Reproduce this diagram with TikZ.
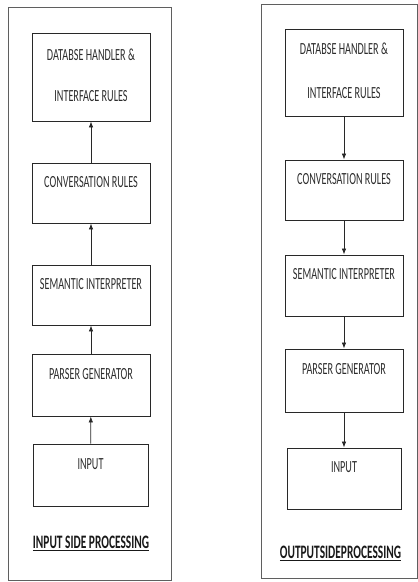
\documentclass[tikz,border=0pt]{standalone}
\usepackage{fontspec}
\setmainfont{Carlito}
\usepackage{graphicx}
\usetikzlibrary{arrows.meta,positioning}
\definecolor{TextGray}{RGB}{45,45,45}
\definecolor{LineGray}{RGB}{40,40,40}
\definecolor{FrameGray}{RGB}{95,95,95}
\newcommand{\narrow}[1]{\scalebox{0.6}[1]{#1}}
\newcommand{\sidetitle}[1]{\scalebox{0.6}[1]{\bfseries\underline{#1}}}

\begin{document}
\begin{tikzpicture}[
  x=1pt, y=-1pt,
  blk/.style={draw=LineGray, line width=0.9pt, minimum width=118pt, inner sep=0pt,
    align=center, text=TextGray, font=\fontsize{17}{19}\selectfont},
  frame/.style={draw=FrameGray, line width=0.9pt},
  arr/.style={-{Latex[length=6pt,width=4.5pt]}, line width=0.7pt, LineGray},
  ttl/.style={text=black!90, font=\fontsize{19}{21}\selectfont, inner sep=0pt}
]
  \useasboundingbox (0,0) rectangle (418,582);

  % input side
  \draw[frame] (8,7) rectangle (171,580);
  \node[blk, minimum height=88pt] (in1) at (91,77) {\narrow{DATABSE HANDLER \&}\strut\\[22pt]\narrow{INTERFACE RULES}\strut};
  \node[blk, minimum height=60pt] (in2) at (91,193) {\narrow{CONVERSATION RULES}\strut\\\strut};
  \node[blk, minimum height=60pt] (in3) at (91,295) {\narrow{SEMANTIC INTERPRETER}\strut\\\strut};
  \node[blk, minimum height=62pt] (in4) at (91,385) {\narrow{PARSER GENERATOR}\strut\\\strut};
  \node[blk, minimum height=62pt, minimum width=115pt] (in5) at (90.5,475) {\narrow{INPUT}\strut\\\strut};
  \node[ttl] (inttl) at (91,543) {\sidetitle{INPUT SIDE PROCESSING}};

  \draw[arr] (in5) -- (in4);
  \draw[arr] (in4) -- (in3);
  \draw[arr] (in3) -- (in2);
  \draw[arr] (in2) -- (in1);

  % output side
  \draw[frame] (261,4) rectangle (417,578);
  \node[blk, minimum height=87pt] (out1) at (344,72.5) {\narrow{DATABSE HANDLER \&}\strut\\[25pt]\narrow{INTERFACE RULES}\strut};
  \node[blk, minimum height=60pt] (out2) at (344,190) {\narrow{CONVERSATION RULES}\strut\\\strut};
  \node[blk, minimum height=61pt] (out3) at (344,285.5) {\narrow{SEMANTIC INTERPRETER}\strut\\\strut};
  \node[blk, minimum height=63pt] (out4) at (344,380.5) {\narrow{PARSER GENERATOR}\strut\\\strut};
  \node[blk, minimum height=61pt, minimum width=114pt] (out5) at (344,478.5) {\narrow{INPUT}\strut\\\strut};
  \node[ttl] (outttl) at (340.5,553) {\sidetitle{OUTPUTSIDEPROCESSING}};

  \draw[arr] (out1) -- (out2);
  \draw[arr] (out2) -- (out3);
  \draw[arr] (out3) -- (out4);
  \draw[arr] (out4) -- (out5);
\end{tikzpicture}
\end{document}
